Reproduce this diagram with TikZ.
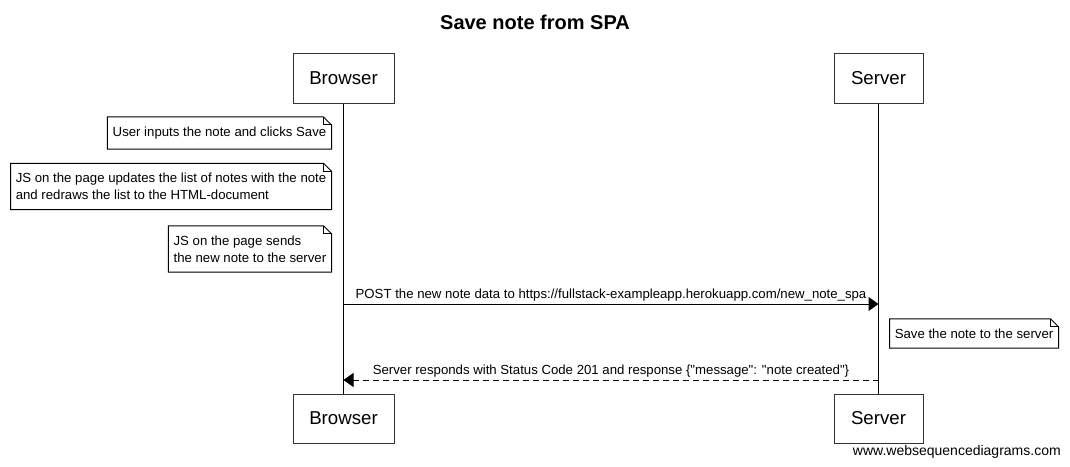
\documentclass[tikz,border=0pt]{standalone}
\usepackage{fontspec}
\setmainfont{Liberation Sans}[Ligatures=TeXOff]
\usetikzlibrary{arrows.meta, positioning}

\begin{document}
\begin{tikzpicture}[
    x=0.75pt, y=-0.75pt,
    font=\fontsize{9.9}{12.75}\selectfont,
    actor/.style = {
        rectangle, draw=black!80, fill=white, line width=0.75pt,
        minimum height=36.75pt, font=\fontsize{14}{16}\selectfont
    },
    note/.style = {
        rectangle, align=left, inner xsep=3.75pt, inner ysep=7.2pt
    },
    fold/.style = {draw=black, line width=0.75pt},
    life/.style = {draw=black, line width=0.75pt},
    msg/.style = {-{Triangle[length=7.5pt, width=10.5pt]}, line width=0.75pt},
    reply/.style = {msg, dash pattern=on 4.5pt off 3pt},
    lbl/.style = {above, inner sep=1.5pt}
]
\useasboundingbox (0,0) rectangle (1070,467);

% ---- Title ----
\node[font=\bfseries\fontsize{15}{18}\selectfont] (title) at (535,22) {Save note from SPA};

% ---- Actors ----
\node[actor, minimum width=75.75pt] (browser) at (343.5,78.5) {Browser};
\node[actor, minimum width=66.75pt] (server) at (878.5,78.5) {Server};
\node[actor, minimum width=75.75pt] (browserB) at (343.5,418.5) {Browser};
\node[actor, minimum width=66.75pt] (serverB) at (878.5,418.5) {Server};

% ---- Lifelines ----
\draw[life] (browser) -- (browserB);
\draw[life] (server) -- (serverB);

% ---- Notes ----
\coordinate (b1) at (343.5,133);
\coordinate (b2) at (343.5,186.5);
\coordinate (b3) at (343.5,249);
\coordinate (s1) at (878.5,333.5);
\node[note, left=9pt of b1] (n1) {User inputs the note and clicks Save};
\node[note, left=9pt of b2] (n2) {JS on the page updates the list of notes with the note\\and redraws the list to the HTML-document};
\node[note, left=9pt of b3] (n3) {JS on the page sends\\the new note to the server};
\node[note, right=8.25pt of s1] (n4) {Save the note to the server};

\foreach \n in {n1,n2,n3,n4} {
  \draw[fold] (\n.south west) -- (\n.north west) -- ([xshift=-6pt]\n.north east)
      -- ([yshift=-6pt]\n.north east) -- (\n.south east) -- cycle;
  \draw[fold] ([xshift=-6pt]\n.north east) -- ([xshift=-6pt,yshift=-6pt]\n.north east)
      -- ([yshift=-6pt]\n.north east);
}

% ---- Messages ----
\coordinate (p1) at (343.5,304);
\coordinate (p2) at (878.5,304);
\coordinate (r1) at (878.5,380);
\coordinate (r2) at (343.5,380);
\draw[msg] (p1) -- node[lbl] {POST the new note data to https://fullstack-exampleapp.herokuapp.com/new\_note\_spa} (p2);
\draw[reply] (r1) -- node[lbl] {Server responds with Status Code 201 and response \{"message": "note created"\}} (r2);

% ---- Watermark ----
\node[anchor=east, inner sep=0pt, font=\fontsize{10.5}{12}\selectfont] (wsd) at (1061,452) {www.websequencediagrams.com};

\end{tikzpicture}
\end{document}
